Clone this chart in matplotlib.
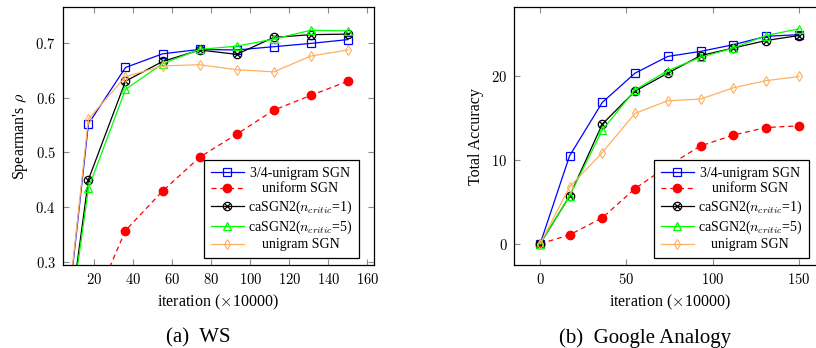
import matplotlib
matplotlib.use("Agg")
import matplotlib.pyplot as plt
from matplotlib.ticker import FuncFormatter

plt.rcParams["font.family"] = ["Liberation Serif", "DejaVu Serif"]
plt.rcParams["mathtext.fontset"] = "cm"

# data
iters = [0, 17, 36, 55, 74, 93, 112, 131, 150]

ws_unigram34 = [0.0, 0.552, 0.655, 0.680, 0.688, 0.687, 0.693, 0.699, 0.706]
ws_uniform = [0.0, 0.20, 0.357, 0.429, 0.491, 0.533, 0.577, 0.604, 0.630]
ws_casgn_1 = [0.0, 0.450, 0.630, 0.666, 0.687, 0.679, 0.710, 0.715, 0.716]
ws_casgn_5 = [0.0, 0.434, 0.615, 0.662, 0.688, 0.694, 0.707, 0.723, 0.722]
ws_unigram = [0.0, 0.561, 0.638, 0.658, 0.660, 0.651, 0.647, 0.676, 0.687]

ga_unigram34 = [0.0, 10.5, 16.9, 20.4, 22.4, 23.0, 23.8, 24.8, 25.0]
ga_uniform = [0.0, 1.07, 3.1, 6.6, 9.3, 11.7, 13.0, 13.9, 14.1]
ga_casgn_1 = [0.0, 5.7, 14.3, 18.25, 20.4, 22.5, 23.4, 24.3, 24.9]
ga_casgn_5 = [0.0, 5.7, 13.6, 18.4, 20.7, 22.3, 23.4, 24.9, 25.7]
ga_unigram = [0.0, 6.8, 10.9, 15.6, 17.1, 17.3, 18.65, 19.5, 20.0]

labels = ["3/4-unigram SGN", "uniform SGN",
          r"caSGN2($n_{critic}$=1)", r"caSGN2($n_{critic}$=5)", "unigram SGN"]

ORANGE = "#ffb060"


def draw(ax, x, s34, suni, sc1, sc5, sug):
    h1, = ax.plot(x, s34, color="blue", lw=0.9, marker="s", ms=6,
                  mfc="none", mew=0.9)
    h2, = ax.plot(x, suni, color="red", lw=0.9, ls=(0, (4, 3)), marker="o",
                  ms=6, mfc="red", mec="red")
    h3a, = ax.plot(x, sc1, color="black", lw=0.9, marker="o", ms=6,
                   mfc="none", mew=0.9)
    h3b, = ax.plot(x, sc1, color="none", marker="x", ms=4, mec="black",
                   mew=0.9, ls="none")
    h4, = ax.plot(x, sc5, color="#00ff00", lw=0.9, marker="^", ms=6,
                  mfc="none", mew=0.9)
    h5, = ax.plot(x, sug, color=ORANGE, lw=0.9, marker="d", ms=5,
                  mfc="none", mew=0.8)
    return [h1, h2, (h3a, h3b), h4, h5]


def style(ax):
    ax.tick_params(direction="in", top=True, right=True, length=4,
                   width=0.8, color="#8c8c8c", labelsize=10.5, pad=5)
    for sp in ax.spines.values():
        sp.set_linewidth(0.9)
    ax.xaxis.set_major_formatter(FuncFormatter(lambda v, p: f"${v:g}$"))
    ax.yaxis.set_major_formatter(FuncFormatter(lambda v, p: f"${v:g}$"))
    ax.set_xlabel(r"iteration ($\times$10000)", fontsize=11.5, labelpad=4)


def legend(fig, ax, handles, anchor):
    leg = ax.legend(handles, labels, loc="lower right", bbox_to_anchor=anchor,
                    fontsize=10, fancybox=False, framealpha=1,
                    edgecolor="black", borderpad=0.45, labelspacing=0.2,
                    handlelength=2.4, handletextpad=0.3, borderaxespad=0)
    leg.get_frame().set_linewidth(0.9)
    fig.canvas.draw()
    r = fig.canvas.get_renderer()
    texts = leg.get_texts()
    w = max(t.get_window_extent(r).width for t in texts)
    for t in texts:
        tw = t.get_window_extent(r).width
        t.set_position(((w - tw) / 2, 0))
    return leg


fig = plt.figure(figsize=(8.16, 3.48), dpi=100)
ax1 = fig.add_axes([0.0768, 0.2376, 0.3811, 0.7414])
ax2 = fig.add_axes([0.6303, 0.2376, 0.3804, 0.7414])

h = draw(ax1, iters, ws_unigram34, ws_uniform, ws_casgn_1, ws_casgn_5, ws_unigram)
ax1.set_xlim(3.8, 163.2)
ax1.set_ylim(0.2934, 0.765)
ax1.set_xticks([20, 40, 60, 80, 100, 120, 140, 160])
ax1.set_yticks([0.3, 0.4, 0.5, 0.6, 0.7])
style(ax1)
ax1.set_ylabel(r"Spearman's $\rho$", fontsize=11.5, labelpad=4)

h2 = draw(ax2, iters, ga_unigram34, ga_uniform, ga_casgn_1, ga_casgn_5, ga_unigram)
ax2.set_xlim(-15, 165)
ax2.set_ylim(-2.57, 28.27)
ax2.set_xticks([0, 50, 100, 150])
ax2.set_yticks([0, 10, 20])
style(ax2)
ax2.set_ylabel("Total Accuracy", fontsize=11.5, labelpad=5)

fig.text(198 / 816, 1 - 338 / 348, "(a)  WS", ha="center", va="center",
         fontsize=15)
fig.text(645.5 / 816, 1 - 338 / 348, "(b)  Google Analogy", ha="center",
         va="center", fontsize=15)

legend(fig, ax1, h, (0.953, 0.0295))
legend(fig, ax2, h2, (0.949, 0.0295))

fig.savefig("out.png", dpi=100, facecolor="w")
